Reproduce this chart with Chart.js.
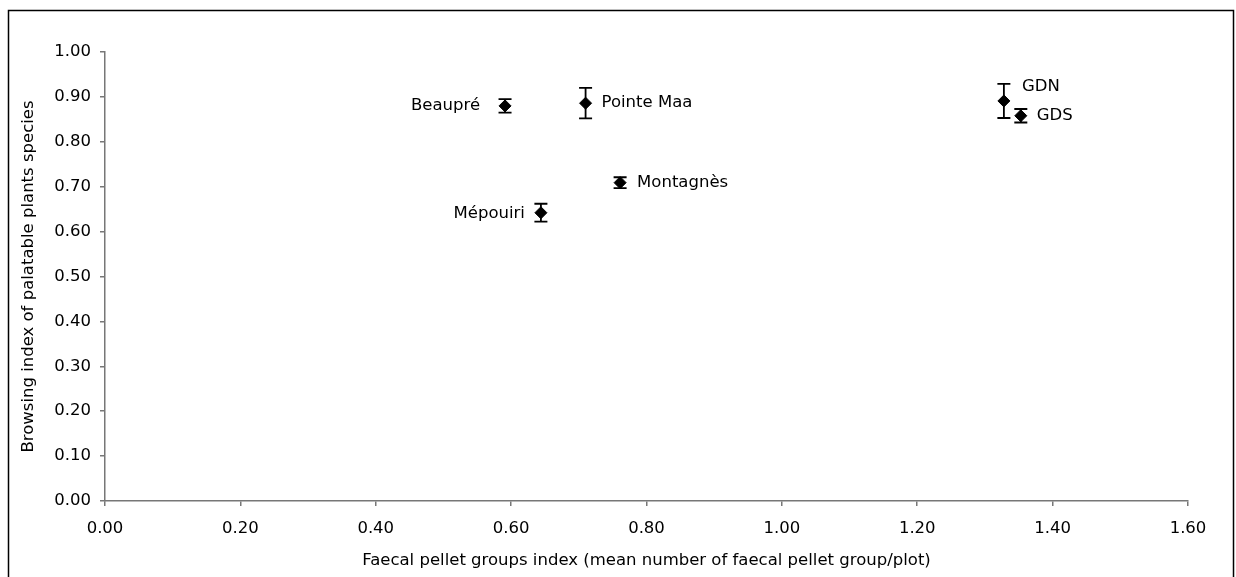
<!DOCTYPE html>
<html>
<head>
<meta charset="utf-8">
<script src="https://cdn.jsdelivr.net/npm/chart.js@4"></script>
<style>
  html, body { margin: 0; padding: 0; background: #ffffff; }
  canvas { display: block; }
</style>
</head>
<body>
<canvas id="c" width="1236" height="577"></canvas>
<script>
// ---- data ----
const siteNames     = ['Beaupré', 'Pointe Maa', 'Montagnès', 'Mépouiri', 'GDN', 'GDS'];
const pelletIndex   = [0.591, 0.710, 0.761, 0.644, 1.328, 1.353];
const browsingIndex = [0.880, 0.886, 0.709, 0.642, 0.891, 0.858];
const browsingError = [0.015, 0.034, 0.012, 0.020, 0.038, 0.015];
const xTitle = 'Faecal pellet groups index (mean number of faecal pellet group/plot)';
const yTitle = 'Browsing index of palatable plants species';

// ---- styling (not data) ----
const FONT_FAMILY = "'DejaVu Sans', 'Liberation Sans', sans-serif";
const FONT_SIZE = 16.5;
const AXIS_COLOR = '#777777';
const labelPlacement = [
  { align: 'right', dx: -25, dy: 0 },
  { align: 'left',  dx: 16,  dy: 0 },
  { align: 'left',  dx: 17,  dy: 0 },
  { align: 'right', dx: -16, dy: 1 },
  { align: 'left',  dx: 18,  dy: -14 },
  { align: 'left',  dx: 16,  dy: 0 }
];

const points = pelletIndex.map((x, i) => ({ x: x, y: browsingIndex[i] }));

const framePlugin = {
  id: 'frame',
  beforeDraw(chart) {
    const ctx = chart.ctx;
    ctx.save();
    ctx.fillStyle = '#ffffff';
    ctx.fillRect(0, 0, chart.width, chart.height);
    ctx.strokeStyle = '#000000';
    ctx.lineWidth = 1.5;
    ctx.strokeRect(8.5, 10.5, 1225, 620);
    ctx.restore();
  }
};

const errorBarPlugin = {
  id: 'errorBars',
  beforeDatasetsDraw(chart) {
    const ctx = chart.ctx;
    const xs = chart.scales.x, ys = chart.scales.y;
    ctx.save();
    ctx.strokeStyle = '#000000';
    ctx.lineWidth = 1.8;
    browsingIndex.forEach((v, i) => {
      const px = xs.getPixelForValue(pelletIndex[i]);
      const top = ys.getPixelForValue(v + browsingError[i]);
      const bot = ys.getPixelForValue(v - browsingError[i]);
      const cap = 6.5;
      ctx.beginPath();
      ctx.moveTo(px, top); ctx.lineTo(px, bot);
      ctx.moveTo(px - cap, top); ctx.lineTo(px + cap, top);
      ctx.moveTo(px - cap, bot); ctx.lineTo(px + cap, bot);
      ctx.stroke();
    });
    ctx.restore();
  }
};

const labelPlugin = {
  id: 'siteLabels',
  afterDatasetsDraw(chart) {
    const ctx = chart.ctx;
    const meta = chart.getDatasetMeta(0);
    ctx.save();
    ctx.fillStyle = '#000000';
    ctx.font = FONT_SIZE + 'px ' + FONT_FAMILY;
    ctx.textBaseline = 'middle';
    meta.data.forEach((el, i) => {
      const p = labelPlacement[i];
      ctx.textAlign = p.align;
      ctx.fillText(siteNames[i], el.x + p.dx, el.y + p.dy);
    });
    ctx.restore();
  }
};

new Chart(document.getElementById('c'), {
  type: 'scatter',
  data: {
    datasets: [{
      label: 'Sites',
      data: points,
      pointStyle: 'rectRot',
      pointRadius: 6,
      pointHoverRadius: 6,
      backgroundColor: '#000000',
      borderColor: '#000000',
      borderWidth: 1
    }]
  },
  options: {
    responsive: false,
    animation: false,
    events: [],
    layout: { padding: { left: 0, right: 48, top: 52, bottom: 0 } },
    plugins: {
      legend: { display: false },
      tooltip: { enabled: false }
    },
    scales: {
      x: {
        type: 'linear',
        min: 0, max: 1.6,
        afterFit(scale) { scale.height = 76; },
        border: { display: true, color: AXIS_COLOR, width: 1.5 },
        grid: { drawOnChartArea: false, drawTicks: true, tickLength: 5, color: AXIS_COLOR, lineWidth: 1.5 },
        ticks: {
          stepSize: 0.2,
          padding: 13,
          color: '#000000',
          font: { family: FONT_FAMILY, size: FONT_SIZE },
          maxRotation: 0,
          callback: (v) => Number(v).toFixed(2)
        },
        title: {
          display: true,
          text: xTitle,
          color: '#000000',
          font: { family: FONT_FAMILY, size: FONT_SIZE },
          padding: { top: 0, bottom: 6.5 }
        }
      },
      y: {
        type: 'linear',
        min: 0, max: 1,
        afterFit(scale) { scale.width = 105; },
        border: { display: true, color: AXIS_COLOR, width: 1.5 },
        grid: { drawOnChartArea: false, drawTicks: true, tickLength: 5, color: AXIS_COLOR, lineWidth: 1.5 },
        ticks: {
          stepSize: 0.1,
          padding: 9,
          color: '#000000',
          font: { family: FONT_FAMILY, size: FONT_SIZE },
          callback: (v) => Number(v).toFixed(2)
        },
        title: {
          display: true,
          text: yTitle,
          color: '#000000',
          font: { family: FONT_FAMILY, size: FONT_SIZE },
          padding: { top: 18.5, bottom: 0 }
        }
      }
    }
  },
  plugins: [framePlugin, errorBarPlugin, labelPlugin]
});
</script>
</body>
</html>
